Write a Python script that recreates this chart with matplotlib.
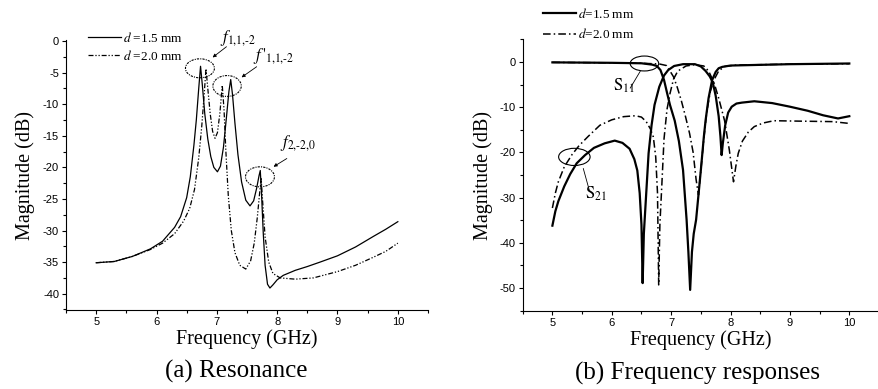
import matplotlib
matplotlib.use("Agg")
import matplotlib.pyplot as plt
from matplotlib.patches import Ellipse

plt.rcParams['font.family'] = ['Liberation Serif', 'DejaVu Serif']
plt.rcParams['mathtext.fontset'] = 'stix'
plt.rcParams['axes.unicode_minus'] = False

# ---- (a) Resonance data ----
res_f_15 = [5.0, 5.3, 5.6, 5.9, 6.1, 6.3, 6.4, 6.5, 6.56, 6.62, 6.66, 6.7, 6.73, 6.76, 6.8,
            6.85, 6.9, 6.95, 7.01, 7.06, 7.11, 7.16, 7.2, 7.23, 7.26, 7.3, 7.35, 7.41, 7.48,
            7.55, 7.61, 7.66, 7.7, 7.72, 7.74, 7.77, 7.8, 7.84, 7.88, 7.93, 8.0, 8.1, 8.3,
            8.5, 8.71, 9.0, 9.3, 9.6, 9.8, 10.0]
res_m_15 = [-35.1, -34.9, -34.1, -32.9, -31.7, -29.5, -27.8, -24.8, -21.5, -16.5, -12.5, -7.5,
            -4.0, -7.0, -11.5, -15.5, -18.3, -20.0, -20.7, -19.8, -16.8, -12.0, -8.0, -6.1,
            -8.5, -13.0, -18.0, -22.3, -25.2, -26.1, -25.3, -23.3, -21.3, -20.5, -24.0, -30.5,
            -35.5, -38.5, -39.1, -38.6, -37.8, -37.1, -36.3, -35.7, -35.0, -34.0, -32.6, -30.9,
            -29.8, -28.6]

res_f_20 = [5.0, 5.3, 5.6, 5.9, 6.1, 6.3, 6.45, 6.55, 6.63, 6.7, 6.75, 6.79, 6.82, 6.85, 6.89,
            6.93, 6.97, 7.01, 7.05, 7.09, 7.12, 7.15, 7.19, 7.24, 7.3, 7.38, 7.48, 7.56, 7.62,
            7.67, 7.71, 7.735, 7.76, 7.8, 7.86, 7.93, 8.05, 8.3, 8.6, 9.0, 9.3, 9.6, 9.8, 10.0]
res_m_20 = [-35.1, -34.9, -34.1, -33.0, -32.0, -30.5, -28.5, -26.5, -23.5, -18.5, -13.5, -8.5,
            -4.4, -7.5, -11.5, -14.3, -15.4, -14.5, -11.5, -7.0, -11.0, -17.5, -24.5, -30.0,
            -33.5, -35.5, -36.1, -34.8, -32.0, -28.0, -24.0, -21.8, -25.5, -31.0, -35.0, -36.8,
            -37.5, -37.7, -37.5, -36.5, -35.5, -34.2, -33.3, -32.0]

# ---- (b) Frequency response data ----
s21_f_15 = [5.0, 5.05, 5.1, 5.2, 5.3, 5.41, 5.55, 5.7, 5.88, 6.05, 6.18, 6.3, 6.38, 6.43, 6.47,
            6.5, 6.52, 6.54, 6.57, 6.62, 6.67, 6.72, 6.8, 6.88, 6.95, 7.05, 7.2, 7.4, 7.5, 7.58,
            7.65, 7.7, 7.75, 7.8, 7.83, 7.85, 7.87, 7.91, 7.96, 8.02, 8.1, 8.19, 8.4, 8.7, 9.0,
            9.3, 9.56, 9.81, 10.0]
s21_m_15 = [-36.2, -33.0, -30.8, -27.5, -24.8, -22.4, -20.6, -19.0, -18.0, -17.4, -17.9, -19.2,
            -21.5, -24.0, -29.0, -36.0, -48.9, -38.0, -31.3, -20.2, -14.0, -9.5, -5.5, -3.0,
            -1.8, -0.9, -0.5, -0.5, -1.0, -2.0, -3.2, -4.5, -7.5, -12.0, -16.5, -20.6, -18.0,
            -14.0, -11.2, -9.9, -9.2, -9.0, -8.7, -9.1, -9.9, -10.8, -11.8, -12.5, -12.0]

s11_f_15 = [5.0, 5.5, 6.0, 6.5, 6.68, 6.76, 6.82, 6.88, 6.93, 6.98, 7.06, 7.13, 7.2, 7.26, 7.29,
            7.32, 7.35, 7.38, 7.42, 7.5, 7.55, 7.58, 7.63, 7.69, 7.75, 7.8, 7.86, 8.0, 9.0, 10.0]
s11_m_15 = [-0.1, -0.15, -0.2, -0.3, -0.6, -0.9, -1.8, -4.0, -6.8, -9.5, -13.0, -17.5, -23.9,
            -34.9, -42.0, -50.4, -42.0, -38.0, -34.9, -23.9, -16.6, -12.9, -8.0, -4.0, -2.2,
            -1.4, -1.1, -0.8, -0.5, -0.35]

s21_f_20 = [5.0, 5.05, 5.1, 5.2, 5.33, 5.45, 5.6, 5.8, 6.0, 6.2, 6.4, 6.5, 6.58, 6.65, 6.7, 6.74,
            6.77, 6.79, 6.81, 6.84, 6.88, 6.93, 6.98, 7.04, 7.1, 7.14, 7.25, 7.4, 7.55, 7.63,
            7.72, 7.8, 7.9, 7.98, 8.05, 8.09, 8.13, 8.2, 8.3, 8.4, 8.55, 8.73, 9.2, 9.72, 10.0]
s21_m_20 = [-32.3, -29.0, -26.5, -23.2, -20.5, -18.5, -16.5, -14.0, -12.8, -12.1, -11.9, -12.2,
            -13.2, -14.8, -16.6, -21.0, -29.0, -49.3, -36.0, -28.0, -17.0, -10.5, -7.0, -3.8,
            -2.3, -1.8, -0.9, -0.6, -0.9, -2.0, -4.5, -8.0, -13.0, -19.5, -26.5, -23.0, -20.2,
            -17.5, -15.5, -14.3, -13.5, -13.0, -13.1, -13.2, -13.6]

s11_f_20 = [5.0, 5.5, 6.0, 6.5, 6.8, 6.92, 6.98, 7.04, 7.1, 7.17, 7.24, 7.31, 7.37, 7.42, 7.46,
            7.5, 7.55, 7.6, 7.66, 7.72, 7.8, 7.9, 8.1, 9.0, 10.0]
s11_m_20 = [-0.1, -0.15, -0.2, -0.3, -0.45, -0.8, -2.0, -3.3, -5.5, -8.5, -12.0, -15.8, -20.0,
            -26.0, -29.4, -24.0, -17.0, -11.0, -6.5, -4.0, -2.0, -1.0, -0.7, -0.5, -0.4]

ddd = (0, (4, 1.5, 1, 1.5, 1, 1.5))
dd = (0, (5, 2, 1, 2))
tick_font = 'Liberation Sans'


def style_axes(ax, xlim, ylim, major_y, minor_y, ypad):
    ax.set_xlim(*xlim)
    ax.set_ylim(*ylim)
    for s in ['top', 'right']:
        ax.spines[s].set_visible(False)
    for s in ['left', 'bottom']:
        ax.spines[s].set_linewidth(0.8)
    ax.set_xticks([5, 6, 7, 8, 9, 10])
    ax.set_xticks([x / 2 for x in range(9, 22)], minor=True)
    ax.set_yticks(major_y)
    ax.set_yticks(minor_y, minor=True)
    ax.tick_params(which='major', direction='out', length=3, width=0.8, labelsize=8, pad=2)
    ax.tick_params(which='minor', direction='out', length=2, width=0.8)
    for lab in ax.get_xticklabels() + ax.get_yticklabels():
        lab.set_fontfamily(tick_font)
    ax.set_xlabel('Frequency (GHz)', fontsize=14.5, labelpad=2)
    ax.set_ylabel('Magnitude (dB)', fontsize=14.5, labelpad=ypad)


fig = plt.figure(figsize=(8.79, 3.89), dpi=100)

# ---- (a) ----
ax1 = fig.add_axes([66 / 879, 1 - 310 / 389, 362 / 879, 270 / 389])
ax1.plot(res_f_15, res_m_15, color='black', lw=0.9, label=r'$d$ =1.5 mm')
ax1.plot(res_f_20, res_m_20, color='black', lw=0.9, ls=ddd, label=r'$d$ =2.0 mm')
style_axes(ax1, (4.5, 10.5), (-42.58, 0.16), list(range(-40, 1, 5)),
           [v / 2 for v in range(-85, 1, 5)], 6)
ax1.legend(loc='upper left', bbox_to_anchor=(0.06, 1.035), frameon=False, fontsize=9.5,
           handlelength=2.5, handletextpad=0.2, borderpad=0, borderaxespad=0,
           labelspacing=0.3)

for cx, cy, w, h in [(6.72, -4.32, 0.48, 3.0), (7.17, -7.12, 0.47, 3.3), (7.715, -21.5, 0.48, 3.17)]:
    ax1.add_patch(Ellipse((cx, cy), w, h, fill=False, ls=(0, (2, 1, 1, 1)), lw=0.8,
                          color='black', clip_on=False))

peak_labels = [r'$f_{\text{1,1,-2}}$', r"$f\,'_{\text{1,1,-2}}$", r'$f_{\text{2,-2,0}}$']
label_pos = [(7.05, -0.1), (7.6, -3.0), (8.05, -16.7)]
arrow_tail = [(7.16, -0.9), (7.66, -4.07), (8.16, -18.6)]
arrow_head = [(6.93, -2.6), (7.41, -5.75), (7.94, -19.9)]
for lab, pos, t, hd in zip(peak_labels, label_pos, arrow_tail, arrow_head):
    ax1.text(pos[0], pos[1], lab, fontsize=12, ha='left', va='baseline', clip_on=False)
    ax1.annotate('', xy=hd, xytext=t, annotation_clip=False,
                 arrowprops=dict(arrowstyle='-|>', lw=0.6, color='black', mutation_scale=5,
                                 shrinkA=0, shrinkB=0))

# ---- (b) ----
ax2 = fig.add_axes([522.7 / 879, 1 - 310.7 / 389, 356.3 / 879, 271.4 / 389])
ax2.plot(s11_f_15, s11_m_15, color='black', lw=1.6, label=r'$d$=1.5 mm')
ax2.plot(s11_f_20, s11_m_20, color='black', lw=1.1, ls=dd, label=r'$d$=2.0 mm')
ax2.plot(s21_f_15, s21_m_15, color='black', lw=1.6)
ax2.plot(s21_f_20, s21_m_20, color='black', lw=1.1, ls=dd)
style_axes(ax2, (4.5, 10.37), (-55, 5), list(range(-50, 1, 10)), list(range(-55, 6, 5)), 5)
ax2.legend(loc='upper left', bbox_to_anchor=(0.056, 1.12), frameon=False, fontsize=9.5,
           handlelength=2.5, handletextpad=0.2, borderpad=0, borderaxespad=0,
           labelspacing=0.5)

ax2.add_patch(Ellipse((6.55, -0.35), 0.48, 3.3, fill=False, lw=0.8, color='black', clip_on=False))
ax2.add_patch(Ellipse((5.37, -21.0), 0.53, 3.8, fill=False, lw=0.8, color='black', clip_on=False))
ax2.text(6.02, -6.4, r'$\mathrm{S}_{11}$', fontsize=12, ha='left', va='baseline')
ax2.text(5.55, -30.2, r'$\mathrm{S}_{21}$', fontsize=12, ha='left', va='baseline')
ax2.annotate('', xy=(6.48, -2.05), xytext=(6.31, -5.8),
             arrowprops=dict(arrowstyle='-', lw=0.6, color='black', shrinkA=0, shrinkB=0))
ax2.annotate('', xy=(5.52, -23.55), xytext=(5.62, -28.3),
             arrowprops=dict(arrowstyle='-', lw=0.6, color='black', shrinkA=0, shrinkB=0))

fig.text(236 / 879, 1 - 371 / 389, '(a) Resonance', fontsize=18, ha='center', va='center')
fig.text(698 / 879, 1 - 373 / 389, '(b) Frequency responses', fontsize=18, ha='center',
         va='center')

fig.savefig('out.png', dpi=100)
